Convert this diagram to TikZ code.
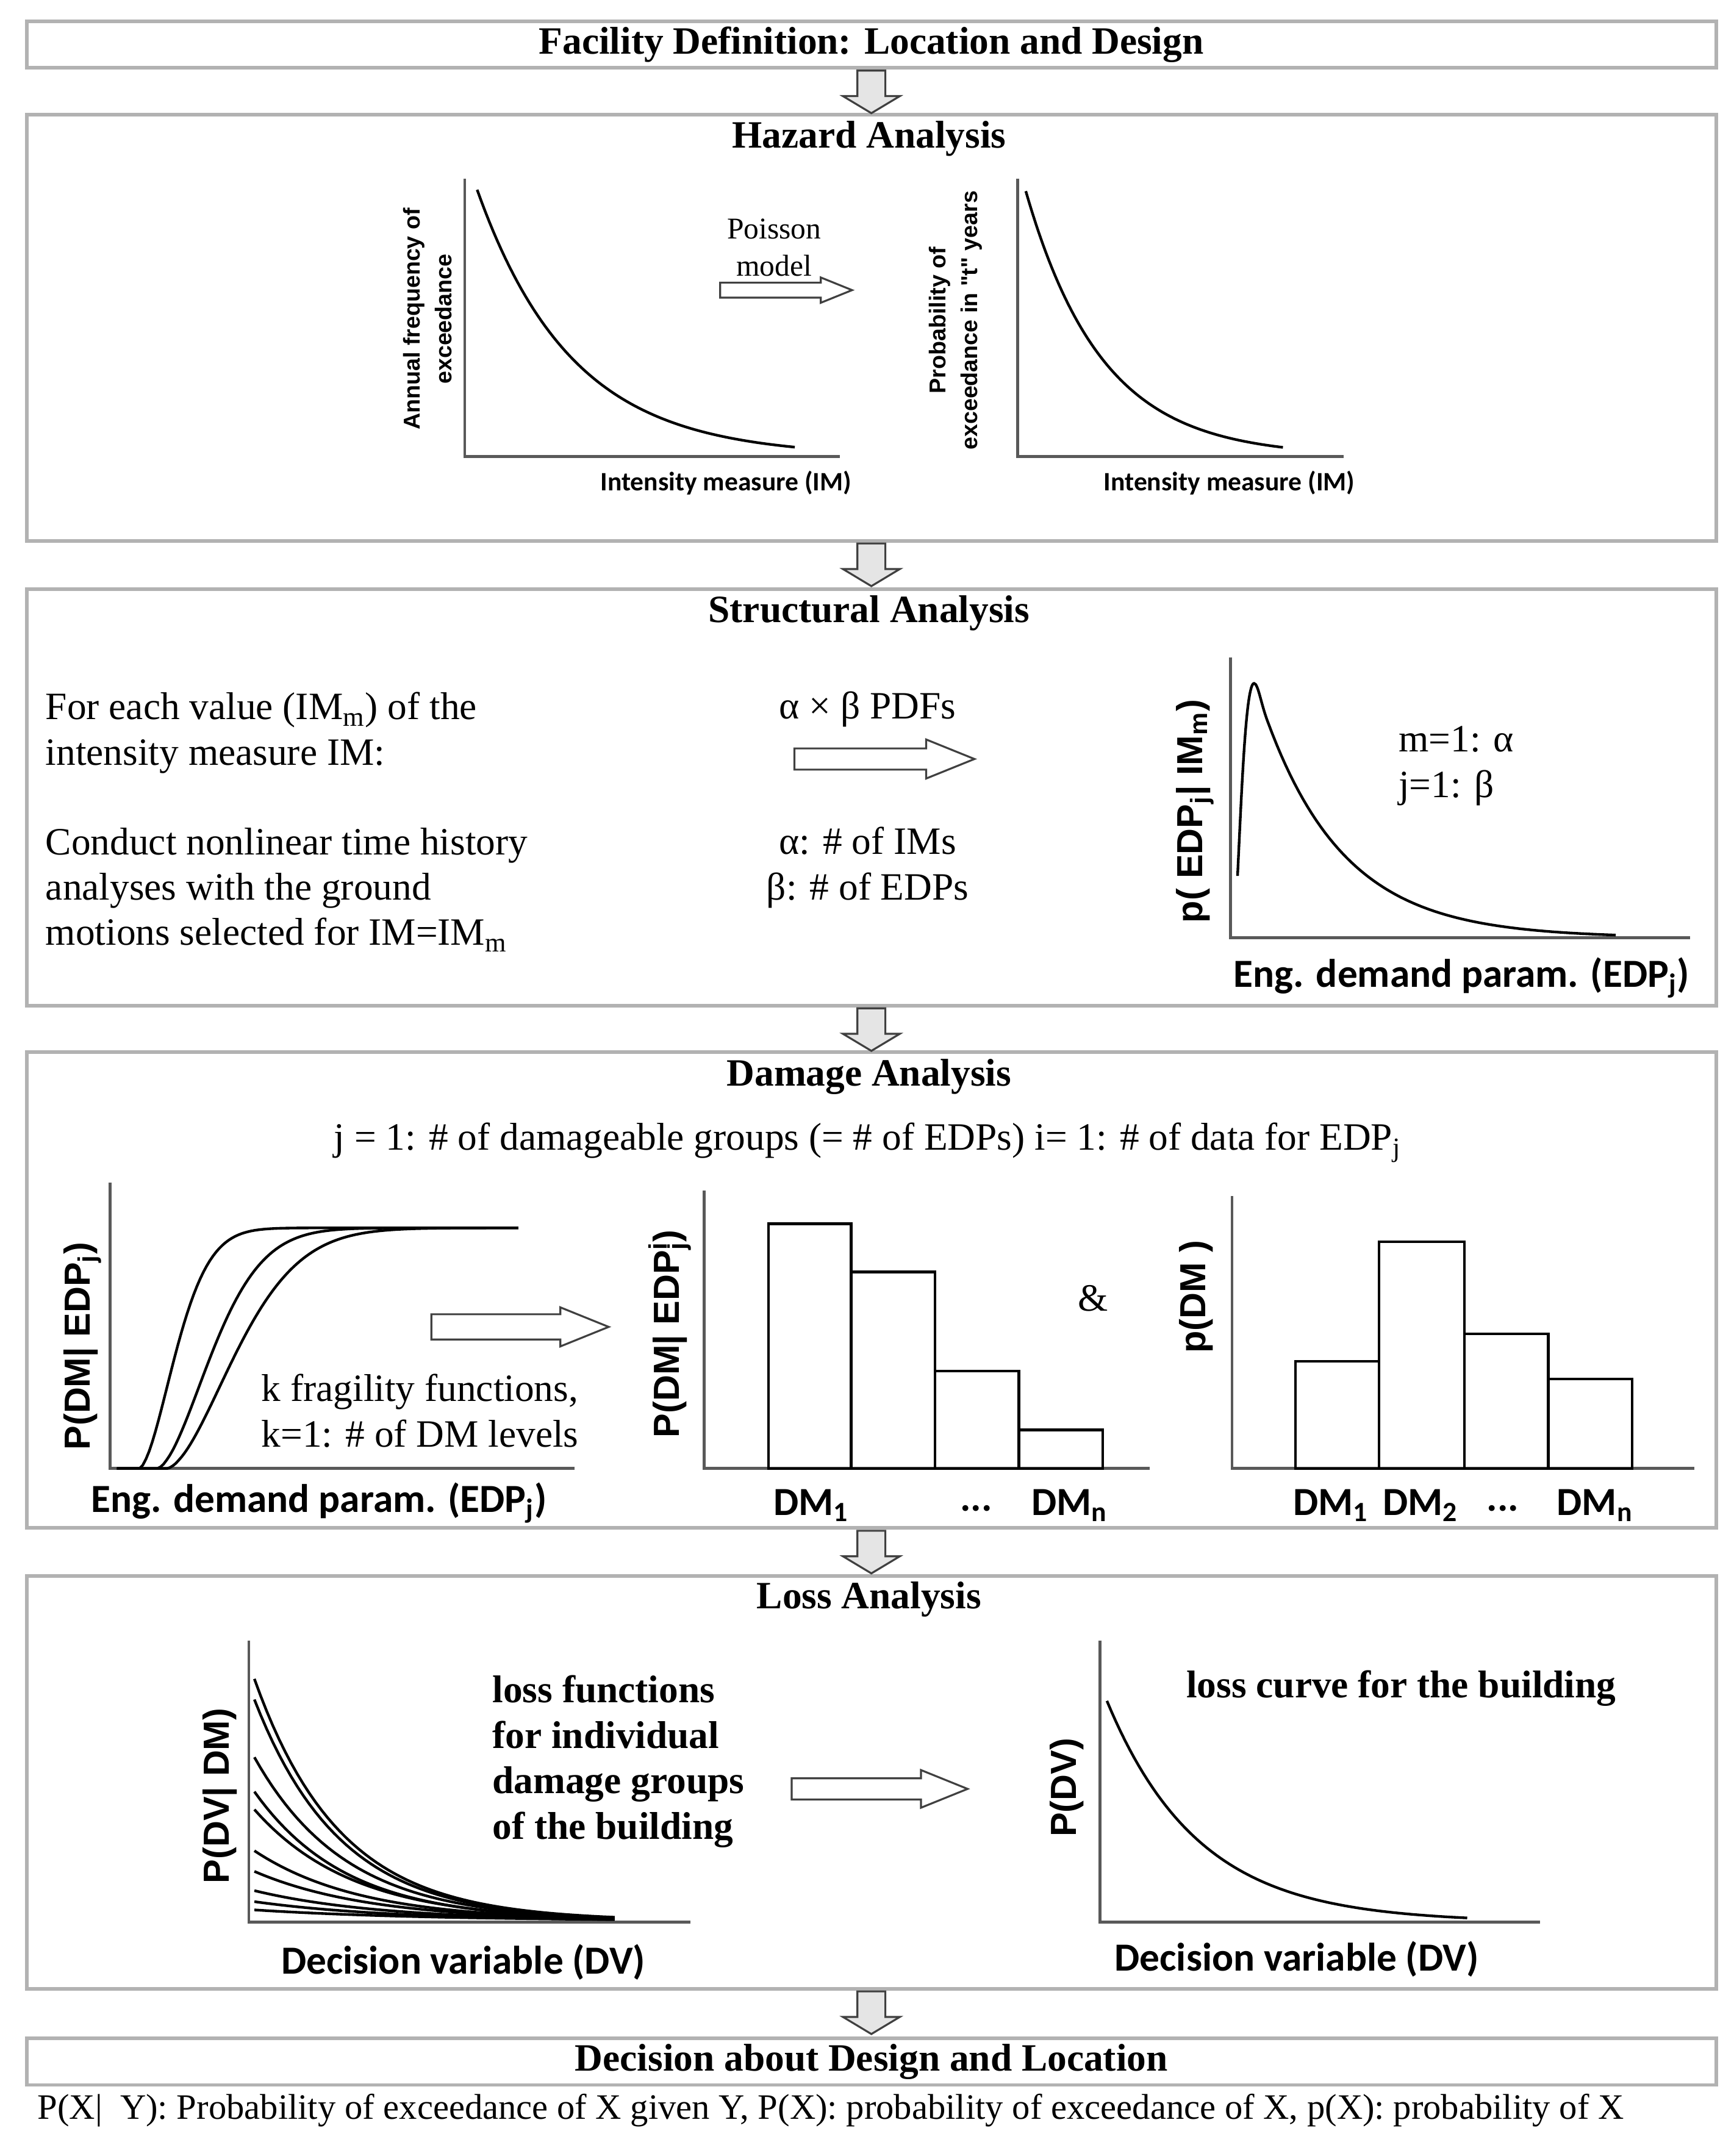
\documentclass[tikz,border=0pt]{standalone}
\usepackage{fontspec}
\setmainfont{Liberation Serif}
\newfontfamily\plotfont{Carlito}
\newfontfamily\yfont{Liberation Sans}
\usetikzlibrary{shapes.arrows}

\tikzset{
  stagebox/.style={draw=gray!60, line width=1.5pt, minimum width=24.58cm, anchor=north west, inner sep=0pt},
  stagetitle/.style={font=\fontsize{16}{19}\selectfont\bfseries},
  bodytext/.style={font=\fontsize{16}{18.8}\selectfont, align=left},
  axislabel/.style={font={\plotfont\fontsize{16.5}{19}\selectfont\bfseries}},
  smallaxislabel/.style={font={\plotfont\fontsize{11}{13}\selectfont\bfseries}},
  yaxislabel/.style={font={\yfont\fontsize{15}{17}\selectfont\bfseries}, rotate=90},
  smallyaxislabel/.style={font={\yfont\fontsize{9.5}{13}\selectfont\bfseries}, rotate=90, align=center},
  plotaxis/.style={draw=gray!70!black, line width=1.2pt},
  plotcurve/.style={black, line width=1.1pt},
  histbar/.style={draw=black, line width=1.1pt},
  downarrow/.style={single arrow, draw=black!75, fill=gray!20, line width=0.8pt, rotate=-90, anchor=tail,
    minimum height=0.62cm, inner xsep=0pt, inner ysep=0.19cm, single arrow head extend=0.21cm, single arrow tip angle=118},
  hollowarrow/.style={single arrow, draw=black!75, fill=white, line width=0.8pt, anchor=tail,
    inner xsep=0pt, single arrow tip angle=44}
}

\begin{document}
\begin{tikzpicture}[x=0.02cm, y=-0.02cm]
  \useasboundingbox (0,0) rectangle (1261,1568);
  \fill[white] (0,0) rectangle (1261,1568);

  % stages
  \node[stagebox, minimum height=0.68cm, stagetitle] (facility) at (18,14) {Facility Definition: Location and Design};
  \node[stagebox, minimum height=6.2cm] (hazard) at (18,82) {};
  \node[stagebox, minimum height=6.06cm] (structural) at (18,427) {};
  \node[stagebox, minimum height=6.92cm] (damage) at (18,764) {};
  \node[stagebox, minimum height=6.0cm] (loss) at (18,1145) {};
  \node[stagebox, minimum height=0.68cm, stagetitle] (decision) at (18,1481) {Decision about Design and Location};

  \node[downarrow] (a1) at (facility.south) {};
  \node[downarrow] (a2) at (hazard.south) {};
  \node[downarrow] (a3) at (structural.south) {};
  \node[downarrow] (a4) at (damage.south) {};
  \node[downarrow] (a5) at (loss.south) {};

  % hazard analysis
  \node[stagetitle] (hazardtitle) at (632,101) {Hazard Analysis};
  \draw[plotaxis] (338,130) -- (338,332) -- (611,332);
  \draw[plotcurve] plot[domain=347:578, samples=80] (\x,{332-194*exp(-0.0145*(\x-347))});
  \node[smallyaxislabel] (afe) at (311,232) {Annual frequency of\\exceedance};
  \node[smallaxislabel] (imlabela) at (528,351) {Intensity measure (IM)};
  \node[font=\fontsize{12.5}{15.4}\selectfont, align=center] (poisson) at (563,180) {Poisson\\model};
  \node[hollowarrow, minimum height=1.92cm, inner ysep=0.095cm, single arrow head extend=0.075cm] (poissonarrow) at (523,211) {};
  \draw[plotaxis] (740,130) -- (740,332) -- (977,332);
  \draw[plotcurve] plot[domain=746:933, samples=80] (\x,{332-193*exp(-0.018*(\x-746))});
  \node[smallyaxislabel] (poe) at (695,233) {Probability of\\exceedance in "t" years};
  \node[smallaxislabel] (imlabelb) at (894,351) {Intensity measure (IM)};

  % structural analysis
  \node[stagetitle] (structtitle) at (632,446) {Structural Analysis};
  \node[bodytext, anchor=west] (foreach) at (27,533) {For each value (IM\textsubscript{m}) of the\\intensity measure IM:};
  \node[bodytext, anchor=west] (conduct) at (27,647) {Conduct nonlinear time history\\analyses with the ground\\motions selected for IM=IM\textsubscript{m}};
  \node[bodytext] (pdfs) at (631,516) {α × β PDFs};
  \node[hollowarrow, minimum height=2.62cm, inner ysep=0.14cm, single arrow head extend=0.13cm] (structarrow) at (577,552) {};
  \node[bodytext, align=center] (counts) at (631,631) {α: \# of IMs\\β: \# of EDPs};
  \draw[plotaxis] (895,478) -- (895,682) -- (1229,682);
  \draw[plotcurve] (900,637) .. controls (903,575) and (906,497) .. (912,497)
    .. controls (915,497) and (917,512) .. (922,525)
    -- plot[domain=922:1175, samples=80] (\x,{682-157*exp(-0.0173*(\x-922))});
  \node[yaxislabel] (pedp) at (869,590) {p( EDP\textsubscript{j}| IM\textsubscript{m})};
  \node[bodytext, anchor=west] (ranges) at (1011,557) {m=1: α\\j=1: β};
  \node[axislabel] (edplabela) at (1063,711) {Eng. demand param. (EDP\textsubscript{j})};

  % damage analysis
  \node[stagetitle] (damagetitle) at (632,783) {Damage Analysis};
  \node[bodytext] (groups) at (631,831) {j = 1: \# of damageable groups (= \# of EDPs) i= 1: \# of data for EDP\textsubscript{j}};
  \draw[plotaxis] (80,860) -- (80,1068) -- (418,1068);
  \foreach \xo/\lam in {101/34.4, 114/51.5, 121/65}
    \draw[plotcurve] (85,1068) -- (\xo,1068)
      -- plot[domain=\xo+0.5:377, samples=120] (\x,{1068-175*(1-exp(-((\x-\xo)/\lam)^1.7))});
  \node[yaxislabel] (pdmedp) at (60,979) {P(DM| EDP\textsubscript{j})};
  \node[bodytext, anchor=west] (fragility) at (184,1026) {k fragility functions,\\k=1: \# of DM levels};
  \node[axislabel] (edplabelb) at (232,1093) {Eng. demand param. (EDP\textsubscript{j})};
  \node[hollowarrow, minimum height=2.58cm, inner ysep=0.17cm, single arrow head extend=0.1cm] (damarrow) at (313,965) {};

  \draw[plotaxis] (512,866) -- (512,1068) -- (836,1068);
  \foreach \xa/\xb/\top in {559/619/890, 619/680/925, 680/741/997, 741/802/1040}
    \draw[histbar] (\xa,1068) rectangle (\xb,\top);
  \node[yaxislabel] (pdmedpi) at (487,970) {P(DM| EDP\rlap{\textsuperscript{i}}\textsubscript{j})};
  \node[axislabel] (dmoneb) at (590,1095) {DM\textsubscript{1}};
  \node[axislabel] (dotsb) at (710,1097) {...};
  \node[axislabel] (dmnb) at (778,1095) {DM\textsubscript{n}};
  \node[bodytext] (amp) at (795,944) {\&};

  \draw[plotaxis] (896,870) -- (896,1068) -- (1232,1068);
  \foreach \xa/\xb/\top in {942/1003/990, 1003/1065/903, 1065/1126/970, 1126/1187/1003}
    \draw[histbar] (\xa,1068) rectangle (\xb,\top);
  \node[yaxislabel] (pdm) at (870,943) {p(DM )};
  \node[axislabel] (dmonec) at (968,1095) {DM\textsubscript{1}};
  \node[axislabel] (dmtwoc) at (1033,1095) {DM\textsubscript{2}};
  \node[axislabel] (dotsc) at (1093,1097) {...};
  \node[axislabel] (dmnc) at (1160,1095) {DM\textsubscript{n}};

  % loss analysis
  \node[stagetitle] (losstitle) at (632,1163) {Loss Analysis};
  \draw[plotaxis] (181,1193) -- (181,1398) -- (502,1398);
  \foreach \h/\k in {176/0.016, 161/0.016, 119/0.015, 94/0.015, 81/0.014, 51/0.013, 36/0.012, 22/0.011, 14/0.01, 8/0.008}
    \draw[plotcurve] plot[domain=185:447, samples=60] (\x,{1397-\h*exp(-\k*(\x-185))});
  \node[yaxislabel] (pdvdm) at (160,1306) {P(DV| DM)};
  \node[bodytext, font=\fontsize{16}{18.8}\selectfont\bfseries, anchor=west] (lossfun) at (352,1281) {loss functions\\for individual\\damage groups\\of the building};
  \node[axislabel] (dvlabela) at (337,1427) {Decision variable (DV)};
  \node[hollowarrow, minimum height=2.56cm, inner ysep=0.14cm, single arrow head extend=0.12cm] (lossarrow) at (575,1301) {};
  \draw[plotaxis] (800,1193) -- (800,1398) -- (1120,1398);
  \draw[plotcurve] plot[domain=805:1067, samples=80] (\x,{1398-161*exp(-0.015*(\x-805))});
  \node[yaxislabel] (pdv) at (776,1300) {P(DV)};
  \node[stagetitle] (losscurve) at (1019,1228) {loss curve for the building};
  \node[axislabel] (dvlabelb) at (943,1425) {Decision variable (DV)};

  % notation
  \node[bodytext, font=\fontsize{14.8}{17}\selectfont, anchor=west, inner xsep=0pt] (legend) at (27,1535) {P(X|\ \ Y): Probability of exceedance of X given Y, P(X): probability of exceedance of X, p(X): probability of X};
\end{tikzpicture}
\end{document}
